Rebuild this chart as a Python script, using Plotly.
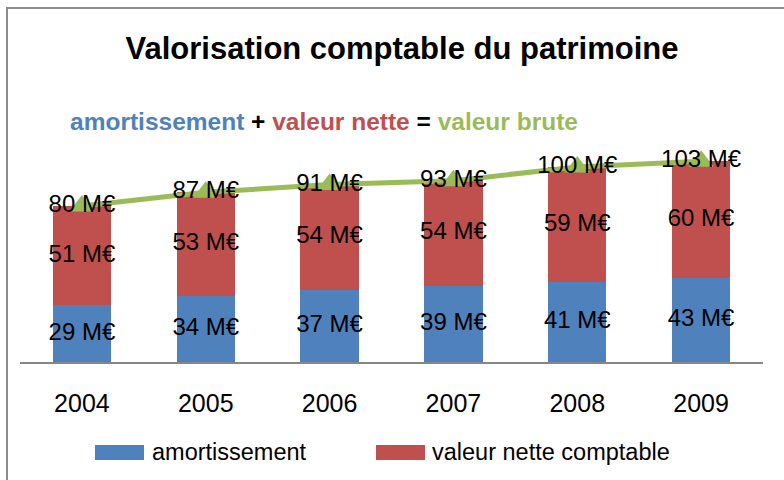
import plotly.graph_objects as go

years = ["2004", "2005", "2006", "2007", "2008", "2009"]
amortissement = [29, 34, 37, 39, 41, 43]
valeur_nette = [51, 53, 54, 54, 59, 60]
valeur_brute = [80, 87, 91, 93, 100, 103]

BLUE = "#4F81BD"
RED = "#C0504D"
GREEN = "#9BBB59"
FONT = "Liberation Sans, Arial, sans-serif"

def lab(v):
    return f"{v} M€"

fig = go.Figure()
fig.add_trace(go.Bar(x=years, y=amortissement, name="amortissement",
                     marker=dict(color=BLUE, line=dict(width=0)), showlegend=False))
fig.add_trace(go.Bar(x=years, y=valeur_nette, name="valeur nette comptable",
                     marker=dict(color=RED, line=dict(width=0)), showlegend=False))

# labels inside bars (centred in each segment)
fig.add_trace(go.Scatter(x=years, y=[a / 2 for a in amortissement], mode="text",
                         text=[lab(v) for v in amortissement],
                         textfont=dict(size=24, color="black", family=FONT),
                         showlegend=False, hoverinfo="skip"))
fig.add_trace(go.Scatter(x=years, y=[a + n / 2 for a, n in zip(amortissement, valeur_nette)],
                         mode="text", text=[lab(v) for v in valeur_nette],
                         textfont=dict(size=24, color="black", family=FONT),
                         showlegend=False, hoverinfo="skip"))
# total line
fig.add_trace(go.Scatter(x=years, y=valeur_brute, mode="lines+markers+text",
                         line=dict(color=GREEN, width=5),
                         marker=dict(symbol="triangle-up", size=22, color=GREEN),
                         text=[lab(v) for v in valeur_brute], textposition="middle center",
                         textfont=dict(size=24, color="black", family=FONT),
                         showlegend=False, name="valeur brute"))

# plot area: x 20..763 px, y 128..362 px
PX0, PX1, PY0, PY1 = 20, 763, 128, 362
def px(x):
    return (x - PX0) / (PX1 - PX0)
def py(y):
    return (PY1 - y) / (PY1 - PY0)

shapes = [
    # chart border (left & top)
    dict(type="line", xref="paper", yref="paper", x0=px(7), x1=px(7), y0=py(8), y1=py(490),
         line=dict(color="#8C8C8C", width=2)),
    dict(type="line", xref="paper", yref="paper", x0=px(6), x1=px(800), y0=py(8), y1=py(8),
         line=dict(color="#8C8C8C", width=2)),
    # legend swatches
    dict(type="rect", xref="paper", yref="paper", x0=px(95), x1=px(144), y0=py(445), y1=py(460),
         fillcolor=BLUE, line=dict(width=0)),
    dict(type="rect", xref="paper", yref="paper", x0=px(376), x1=px(425), y0=py(445), y1=py(460),
         fillcolor=RED, line=dict(width=0)),
]

annotations = [
    dict(xref="paper", yref="paper", x=px(68), y=py(121), xanchor="left", yanchor="middle",
         showarrow=False, font=dict(size=24.5, family=FONT, color="black"),
         text=(f"<b><span style='color:{BLUE}'>amortissement</span> + "
               f"<span style='color:{RED}'>valeur nette</span> = "
               f"<span style='color:{GREEN}'>valeur brute</span></b>")),
    dict(xref="paper", yref="paper", x=px(150), y=py(452), xanchor="left", yanchor="middle",
         showarrow=False, font=dict(size=23.5, family=FONT, color="black"), text="amortissement"),
    dict(xref="paper", yref="paper", x=px(430), y=py(452), xanchor="left", yanchor="middle",
         showarrow=False, font=dict(size=23.5, family=FONT, color="black"), text="valeur nette comptable"),
]

fig.update_layout(
    width=784, height=480,
    margin=dict(l=PX0, r=784 - PX1, t=PY0, b=480 - PY1),
    barmode="stack", bargap=0.53,
    paper_bgcolor="white", plot_bgcolor="white",
    title=dict(text="<b>Valorisation comptable du patrimoine</b>", x=402 / 784, xanchor="center",
               xref="container", y=1 - 48 / 480, yanchor="middle", yref="container",
               font=dict(size=31, family=FONT, color="black")),
    font=dict(family=FONT, color="black"),
    shapes=shapes, annotations=annotations,
    showlegend=False,
)
fig.update_xaxes(type="category", range=[-0.5, 5.5], showline=True, linecolor="#868686",
                 linewidth=2, ticks="", ticklabelstandoff=18, showgrid=False,
                 tickfont=dict(size=25, family=FONT, color="black"))
fig.update_yaxes(range=[0, 120], visible=False, showgrid=False)

fig.write_html("out.html", config={"displayModeBar": False},
               post_script="document.body.style.margin='0';document.body.style.overflow='hidden';")
